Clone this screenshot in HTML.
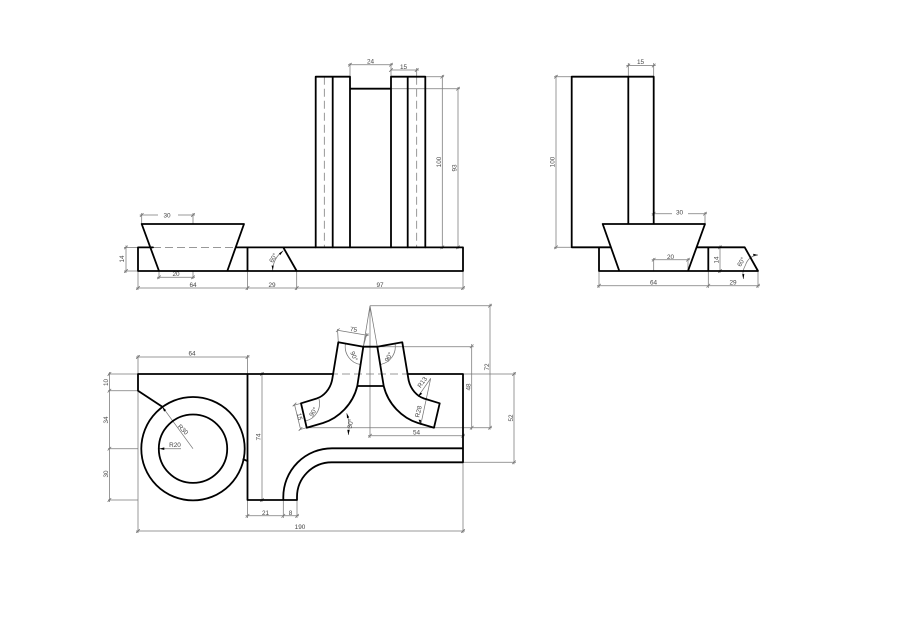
<!DOCTYPE html>
<html><head><meta charset="utf-8"><style>
html,body{margin:0;padding:0;background:#fff}
svg{display:block}
.o{fill:none;stroke:#000;stroke-width:1.8;stroke-linecap:round;stroke-linejoin:round}
.d{fill:none;stroke:#777;stroke-width:.75}
.h{fill:none;stroke:#777;stroke-width:.75;stroke-dasharray:8 4}
text{font-family:"Liberation Sans",sans-serif;font-size:6.4px;fill:#444;text-anchor:middle}
</style></head><body>
<svg width="900" height="636" viewBox="0 0 900 636" xmlns="http://www.w3.org/2000/svg">
<rect width="900" height="636" fill="#fff"/>

<!-- FRONT VIEW: thin -->
<g class="d">
<path d="M138 271V290M247.500 271V290M296.700 271V290M463 271V290M124 247.400H138M124 271H138"/>
<path d="M136 288H465M126 245.400V273"/>
<path d="M141.700 224V213M193 224V213M139.700 215H158M178 215H195"/>
<path d="M159 271V279M193 271V279M157 277.300H195"/>
<path d="M350 76.700V63M391 76.700V63M348 64.700H393M391 70H419M416.700 76.700V68"/>
<path d="M425.300 76.700H444M391 88.700H460M442.300 75V249M458 87V249M425 247.300H460"/>
<path d="M136.200 289.800l3.600-3.600M245.700 289.800l3.600-3.600M294.900 289.800l3.600-3.600M461.200 289.800l3.600-3.600M124.200 249.200l3.600-3.600M124.200 272.800l3.600-3.600M139.900 216.800l3.600-3.600M191.200 216.800l3.600-3.600M157.200 279.100l3.600-3.600M191.200 279.100l3.600-3.600M348.200 66.500l3.600-3.600M389.200 66.500l3.600-3.600M389.200 71.800l3.600-3.600M414.900 71.800l3.600-3.600M440.500 78.500l3.600-3.600M440.500 249.100l3.600-3.600M456.200 90.500l3.600-3.600M456.200 249.100l3.600-3.600"/>
<path d="M272.700 270.500A24 24 0 0 1 283.300 250.700"/>
</g>
<path d="M272.700 270.500l-1.100-5 2.100 .1zM283.300 250.700l-4.300 2.700 1.200 1.700z" fill="#000"/>
<g>
<text x="167" y="217.300">30</text>
<text x="176" y="276">20</text>
<text x="193" y="287">64</text>
<text x="272" y="287">29</text>
<text x="380" y="287">97</text>
<text x="370.500" y="63.500">24</text>
<text x="403.500" y="69">15</text>
<text transform="translate(124 259) rotate(-90)">14</text>
<text transform="translate(440.800 162) rotate(-90)">100</text>
<text transform="translate(456.500 168) rotate(-90)">93</text>
<text transform="translate(275 259) rotate(-60)">60°</text>
</g>
<!-- FRONT VIEW: hidden -->
<path class="h" d="M153 247.400H237"/>
<path class="h" d="M324.300 76.700V247.300M416.700 76.700V247.300"/>
<!-- FRONT VIEW: object -->
<g class="o">
<path d="M141.700 224H244L227.300 271H159ZM138 247.400V271H296.700L283.300 247.400M138 247.400H153M236 247.400H463V271H296.700M247.500 247.400V271"/>
<path d="M315.700 247.400V76.700H350V247.400M332.700 76.700V247.400M391 247.400V76.700H425.300V247.400M407.700 76.700V247.400M350 88.700H391"/>
</g>

<!-- SIDE VIEW: thin -->
<g class="d">
<path d="M571.700 76.700H554M571.700 247.300H554M556 75V249"/>
<path d="M628.300 76.700V63M653.700 76.700V63M626.300 65.500H655.700"/>
<path d="M653.700 224V212M705 224V212M651.700 213.700H672M688 213.700H707"/>
<path d="M653.700 271V258M688 271V258M651.700 259.700H690"/>
<path d="M599 271V288M708.300 271V288M758 271V288M597 285.700H760"/>
<path d="M708.300 247.300H722M708.300 271H722M720 245.300V273"/>
<path d="M554.200 249.100l3.600-3.600M554.200 78.500l3.600-3.600M626.500 67.300l3.600-3.600M651.900 67.300l3.600-3.600M651.900 215.500l3.600-3.600M703.200 215.500l3.600-3.600M651.900 261.500l3.600-3.600M686.200 261.500l3.600-3.600M597.200 287.500l3.600-3.600M706.500 287.500l3.600-3.600M756.200 287.500l3.600-3.600M718.200 249.100l3.600-3.600M718.200 272.800l3.600-3.600"/>
<path d="M758 255Q748.500 256 745.500 265Q741.500 272 743.500 279"/>
</g>
<path d="M758 255l-4.800-1.200.2 2.100zM743.500 279l.8-5-2.100 .2z" fill="#000"/>
<g>
<text x="679.500" y="214.500">30</text>
<text x="670.500" y="258.800">20</text>
<text x="653.500" y="284.500">64</text>
<text x="733" y="284.500">29</text>
<text x="640.500" y="64">15</text>
<text transform="translate(554.500 162) rotate(-90)">100</text>
<text transform="translate(718.300 260) rotate(-90)">14</text>
<text transform="translate(743 263) rotate(-60)">60°</text>
</g>
<g class="o">
<path d="M602.700 224H705L688 271H619.300ZM571.700 247.300V76.700H653.700V224M628.300 76.700V224M571.700 247.300H610.900M599 247.300V271H758L744.700 247.300H697.400M708.300 247.300V271"/>
</g>

<!-- TOP VIEW: thin -->
<g class="d">
<path d="M138 374V533M247.500 374V355M138 374V355M136 357H249.500"/>
<path d="M108 374H138M108 390.700H138M108 448.700H138M108 500H138M109.400 372V502"/>
<path d="M136 531H465M463 374V533"/>
<path d="M247.500 500V518M283.300 500V518M297 500V518M245.500 515.800H299"/>
<path d="M262 372V502"/>
<path d="M193 448.700L162.300 406.700M159.300 448.700H181"/>
<path d="M370 305.700H492M370 305.700L363.300 346.700M370 305.700L377.300 346.700M370 305.700V438"/>
<path d="M338.300 342.300L337.500 329M363.300 346.700L367 333M337.500 330.200L368.500 335.500"/>
<path d="M377.300 346.700H473.700M306.700 427.700H492M471.700 344V429.700M490 303.700V429.700M463 374H516M463 462.300H516M514 372V464.300"/>
<path d="M368 435.700H465"/>
<path d="M418 396.700L430.700 378.300L420.700 425"/>
<path d="M301 403.300L293 405.500M306.700 427.700L299 429.800M294.500 404.500L300.500 429"/>
<path d="M346.700 413.300Q350.500 424 348.300 435"/>
<path d="M345.500 343.500A18 18 0 0 0 360.500 364.500M395 343.500A18 18 0 0 1 380 364.500M319 399A18 18 0 0 1 305.500 421"/>
<path d="M107.600 375.800l3.600-3.600M107.600 392.500l3.600-3.600M107.600 450.500l3.600-3.600M107.600 501.800l3.600-3.600M136.200 358.800l3.600-3.600M245.700 358.800l3.600-3.600M136.200 532.800l3.600-3.600M461.200 532.800l3.600-3.600M245.700 517.600l3.600-3.600M281.500 517.600l3.600-3.600M295.200 517.600l3.600-3.600M260.200 375.800l3.600-3.600M260.200 501.800l3.600-3.600M368.200 437.500l3.600-3.600M461.200 437.500l3.600-3.600M469.900 348.100l3.600-3.600M469.900 429.500l3.600-3.600M488.200 307.500l3.600-3.600M488.200 429.500l3.600-3.600M512.200 375.800l3.600-3.600M512.200 464.100l3.600-3.600M336 332l3.600-3.600M365 337.300l3.600-3.600M292.700 406.300l3.600-3.600M298.700 430.800l3.600-3.600"/>
</g>
<path d="M159.300 448.700l5-1.300v2.600zM162.300 406.700l1.800 4.900 2-1.500zM418 396.700l4.200-2.900-1.900-1.300zM420.700 425l.2-5-2.300-.4zM346.700 413.300l.3 4.900 2.200-.8zM348.300 435l1.400-4.900-2.400-.3z" fill="#000"/>
<g>
<text x="192" y="355.500">64</text>
<text transform="translate(353.300 331.500) rotate(9)">75</text>
<text x="175" y="447">R20</text>
<text x="416.500" y="434.500">54</text>
<text x="300" y="529">190</text>
<text x="265.500" y="515">21</text>
<text x="290.500" y="515">8</text>
<text transform="translate(108 382.500) rotate(-90)">10</text>
<text transform="translate(108 420) rotate(-90)">34</text>
<text transform="translate(108 474) rotate(-90)">30</text>
<text transform="translate(260.500 437) rotate(-90)">74</text>
<text transform="translate(470.500 387) rotate(-90)">48</text>
<text transform="translate(489 367) rotate(-90)">72</text>
<text transform="translate(512.800 418) rotate(-90)">52</text>
<text transform="translate(181.500 431) rotate(45)">R30</text>
<text transform="translate(424 383.500) rotate(-55)">R13</text>
<text transform="translate(420.500 412) rotate(-77)">R28</text>
<text transform="translate(352 357) rotate(67)">90°</text>
<text transform="translate(390.500 358) rotate(-62)">90°</text>
<text transform="translate(315 413) rotate(-58)">90°</text>
<text transform="translate(297.500 417) rotate(78)">15</text>
<text transform="translate(352.500 424) rotate(-80)">30°</text>
</g>
<path class="h" d="M330 374H410"/>
<g class="o">
<path d="M138 374V390.700L162.300 406.700M138 374H332.900M407.700 374H463V462.300H331.700A34.700 34.700 0 0 0 297 497V500H247.500V374M283.300 500V497A48.700 48.700 0 0 1 332 448.300H463"/>
<path d="M243.300 459.300L247.500 461"/>
<circle cx="193" cy="448.700" r="51.700"/>
<circle cx="193" cy="448.700" r="34.200"/>
<path d="M338.300 342.300L363.300 346.700H377.300L402.300 342.300L408.300 378.300C410 390 418 396.500 424 398.500L439.700 403.300L434 427.700L418 423C402 418 388 404 383.700 386H357.300C353 404 339 418 323 423L306.700 427.700L301 403.300L316.700 398.500C322.700 396.500 330.700 390 332.400 378.300ZM363.300 346.700L357.300 386M377.300 346.700L383.700 386"/>
</g>
</svg>
</body></html>
